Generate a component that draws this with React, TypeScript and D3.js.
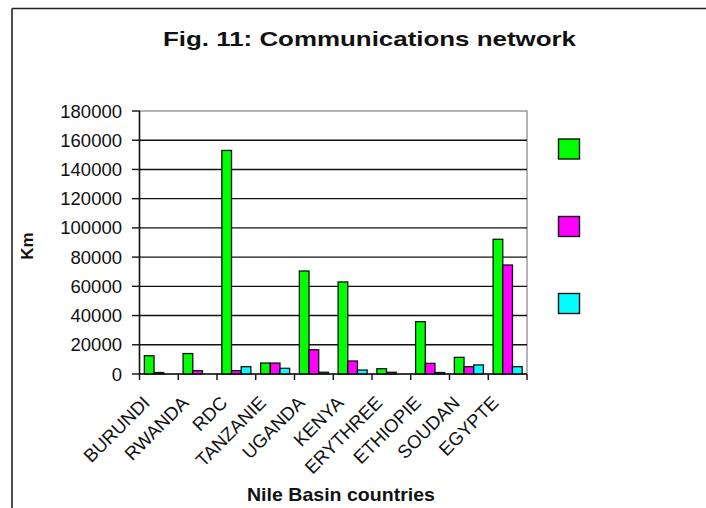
import React from "react";
import * as d3 from "d3";

// Communications network by Nile Basin country (km)
const categories = [
  "BURUNDI",
  "RWANDA",
  "RDC",
  "TANZANIE",
  "UGANDA",
  "KENYA",
  "ERYTHREE",
  "ETHIOPIE",
  "SOUDAN",
  "EGYPTE",
];
const greenSeries = [12500, 14000, 153000, 7500, 70500, 63000, 3600, 35800, 11400, 92200];
const magentaSeries = [1000, 2300, 2300, 7500, 16600, 8900, 1200, 7300, 5000, 74600];
const cyanSeries = [0, 0, 5000, 3900, 1200, 2700, 0, 1000, 6200, 5000];
const yTicks = [0, 20000, 40000, 60000, 80000, 100000, 120000, 140000, 160000, 180000];

const seriesList = [
  { values: greenSeries, color: "#00ff00" },
  { values: magentaSeries, color: "#ff00ff" },
  { values: cyanSeries, color: "#00ffff" },
];

const W = 706;
const H = 508;
const plot = { left: 139.5, right: 527, top: 111, bottom: 374 };
const FONT = "'Liberation Sans', Arial, Helvetica, sans-serif";

export default function App() {
  const x = d3
    .scaleBand<string>()
    .domain(categories)
    .range([plot.left, plot.right])
    .paddingInner(0)
    .paddingOuter(0);
  const y = d3.scaleLinear().domain([0, 180000]).range([plot.bottom, plot.top]);

  const bw = x.bandwidth();
  const inner = d3
    .scaleBand<number>()
    .domain(seriesList.map((_, i) => i))
    .range([bw / 8, bw - bw / 8])
    .padding(0);

  const legendY = [139, 216.5, 293.5];

  return (
    <svg
      width={W}
      height={H}
      style={{ position: "absolute", left: 0, top: 0, display: "block", background: "#fff" }}
      fontFamily={FONT}
    >
      {/* outer frame */}
      <line x1={12} y1={8.5} x2={W} y2={8.5} stroke="#222" strokeWidth={1.6} />
      <line x1={12} y1={8.5} x2={12} y2={H} stroke="#222" strokeWidth={1.6} />

      {/* title */}
      <text
        x={163}
        y={45.5}
        fontSize={21}
        fontWeight="bold"
        fill="#111"
        textLength={413}
        lengthAdjust="spacingAndGlyphs"
      >
        Fig. 11: Communications network
      </text>

      {/* plot area border */}
      <rect
        x={plot.left}
        y={plot.top}
        width={plot.right - plot.left}
        height={plot.bottom - plot.top}
        fill="none"
        stroke="#8c8c8c"
        strokeWidth={1.3}
      />

      {/* gridlines */}
      {yTicks
        .filter((t) => t > 0 && t < 180000)
        .map((t) => (
          <line
            key={"g" + t}
            x1={plot.left}
            x2={plot.right}
            y1={y(t)}
            y2={y(t)}
            stroke="#111"
            strokeWidth={1.4}
          />
        ))}

      {/* bars */}
      {categories.map((c, ci) => (
        <g key={c} transform={`translate(${x(c)},0)`}>
          {seriesList.map((s, si) => {
            const v = s.values[ci];
            const top = y(v);
            return (
              <rect
                key={si}
                x={inner(si)}
                y={top}
                width={inner.bandwidth()}
                height={Math.max(0, plot.bottom - top)}
                fill={s.color}
                stroke="#111"
                strokeWidth={1.3}
              />
            );
          })}
        </g>
      ))}

      {/* y axis */}
      <line x1={plot.left} x2={plot.left} y1={plot.top} y2={plot.bottom} stroke="#111" strokeWidth={1.5} />
      {yTicks.map((t) => (
        <g key={"yt" + t}>
          <line x1={plot.left - 7.5} x2={plot.left} y1={y(t)} y2={y(t)} stroke="#111" strokeWidth={1.4} />
          <text x={122} y={y(t)} dy={6.5} textAnchor="end" fontSize={18.5} fill="#111">
            {t}
          </text>
        </g>
      ))}

      {/* x axis */}
      <line x1={plot.left} x2={plot.right} y1={plot.bottom} y2={plot.bottom} stroke="#111" strokeWidth={1.5} />
      {[...categories.map((c) => x(c) as number), plot.right].map((px, i) => (
        <line key={"xt" + i} x1={px} x2={px} y1={plot.bottom} y2={plot.bottom + 6} stroke="#111" strokeWidth={1.4} />
      ))}
      {categories.map((c) => {
        const cx = (x(c) as number) + bw / 2;
        return (
          <text
            key={"xl" + c}
            transform={`translate(${cx - 8},${plot.bottom + 30}) rotate(-45)`}
            textAnchor="end"
            fontSize={18.5}
            fill="#111"
          >
            {c}
          </text>
        );
      })}

      {/* axis titles */}
      <text
        transform="translate(33,246) rotate(-90)"
        textAnchor="middle"
        fontSize={17}
        fontWeight="bold"
        fill="#111"
      >
        Km
      </text>
      <text
        x={247}
        y={501}
        fontSize={19}
        fontWeight="bold"
        fill="#111"
        textLength={188}
        lengthAdjust="spacingAndGlyphs"
      >
        Nile Basin countries
      </text>

      {/* legend swatches */}
      {seriesList.map((s, i) => (
        <rect
          key={"lg" + i}
          x={558.5}
          y={legendY[i]}
          width={21}
          height={20}
          fill={s.color}
          stroke="#111"
          strokeWidth={1.4}
        />
      ))}
    </svg>
  );
}
